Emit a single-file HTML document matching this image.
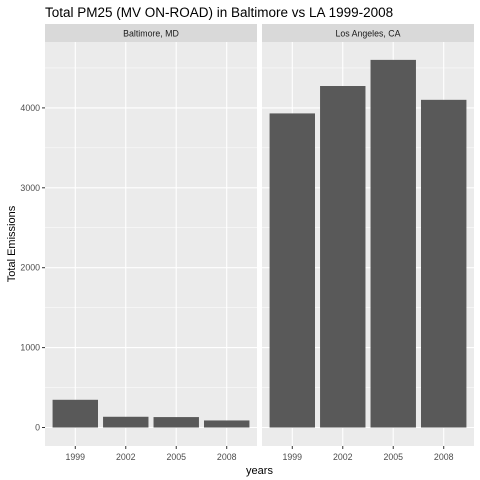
<!DOCTYPE html>
<html><head><meta charset="utf-8"><style>
body{margin:0;background:#fff;}
svg{display:block;font-family:"Liberation Sans",Arial,sans-serif;}
</style></head><body>
<svg id="chart" width="480" height="480" viewBox="0 0 480 480"></svg>
<script>
const categories = ["1999","2002","2005","2008"];
const panels = ["Baltimore, MD","Los Angeles, CA"];
const baltimoreValues = [346.8, 134.3, 130.4, 88.3];
const laValues = [3931, 4274, 4601, 4101];
const yTicks = [0, 1000, 2000, 3000, 4000];
const yMinor = [500, 1500, 2500, 3500, 4500];

const svg = document.getElementById('chart');
const NS = 'http://www.w3.org/2000/svg';
function mk(tag, attrs, text){ const e=document.createElementNS(NS,tag); for(const k in attrs) e.setAttribute(k,attrs[k]); if(text!==undefined) e.textContent=text; svg.appendChild(e); return e; }

const panelTop = 42, panelBottom = 446;
const panelX = [45, 262], panelW = 212;
const y0 = 427.5, pxPer = 0.0799;
function yScale(v){ return y0 - v*pxPer; }
function xScale(p, i){ return panelX[p] + panelW*(i+0.6)/4.2; }
const bw = panelW*0.9/4.2;
const series = [baltimoreValues, laValues];

let t = mk('text',{x:45,y:17,'font-size':13.5,fill:'#000'},'Total PM25 (MV ON-ROAD) in Baltimore vs LA 1999-2008');
 

for(let p=0;p<2;p++){
  let bg = mk('rect',{x:panelX[p],y:panelTop,width:panelW,height:panelBottom-panelTop,fill:'#ebebeb'});
   
  let st = mk('rect',{x:panelX[p],y:24,width:panelW,height:18,fill:'#d9d9d9'});
   
  let sl = mk('text',{x:panelX[p]+panelW/2,y:36.5,'font-size':8.8,fill:'#1a1a1a','text-anchor':'middle'},panels[p]);
   
  yMinor.forEach(v=>{ mk('line',{x1:panelX[p],x2:panelX[p]+panelW,y1:yScale(v),y2:yScale(v),stroke:'#fff','stroke-width':0.5}); });
  yTicks.forEach(v=>{ mk('line',{x1:panelX[p],x2:panelX[p]+panelW,y1:yScale(v),y2:yScale(v),stroke:'#fff','stroke-width':1.1}); });
  categories.forEach((c,i)=>{
    const x=xScale(p,i);
    mk('line',{x1:x,x2:x,y1:panelTop,y2:panelBottom,stroke:'#fff','stroke-width':1.1});
    mk('line',{x1:x,x2:x,y1:panelBottom,y2:panelBottom+3,stroke:'#333','stroke-width':1});
    let tl = mk('text',{x:x,y:460,'font-size':8.8,fill:'#4d4d4d','text-anchor':'middle'},c);
     
  });
  series[p].forEach((v,i)=>{
    const b = mk('rect',{x:xScale(p,i)-bw/2,y:yScale(v),width:bw,height:y0-yScale(v),fill:'#595959'});
    
    
  });
}
yTicks.forEach(v=>{
  mk('line',{x1:42,x2:45,y1:yScale(v),y2:yScale(v),stroke:'#333','stroke-width':1});
  let yl = mk('text',{x:40,y:yScale(v)+3,'font-size':8.8,fill:'#4d4d4d','text-anchor':'end'},String(v));
   
});
let xt = mk('text',{x:259.5,y:474,'font-size':11,fill:'#000','text-anchor':'middle'},'years');
 
let yt = mk('text',{x:0,y:0,'font-size':11,fill:'#000','text-anchor':'middle',transform:'translate(15,244) rotate(-90)'},'Total Emissions');
 
</script>
</body></html>
